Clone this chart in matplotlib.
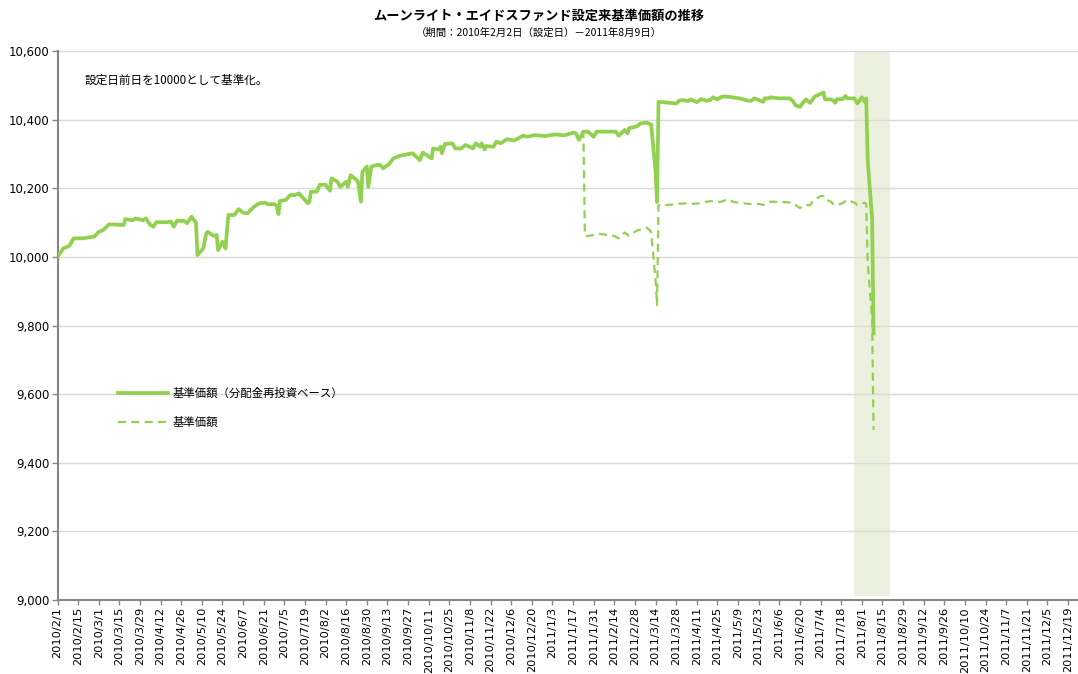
import matplotlib
matplotlib.use("Agg")
import matplotlib.pyplot as plt
import pandas as pd
from matplotlib.font_manager import FontProperties

JP_FONT = ["Noto Sans CJK JP", "DejaVu Sans"]
plt.rcParams["font.family"] = ["DejaVu Sans", "Noto Sans CJK JP"]

TITLE = "ムーンライト・エイドスファンド設定来基準価額の推移"
SUBTITLE = "（期間：2010年2月2日（設定日）－2011年8月9日）"
NOTE = "設定日前日を10000として基準化。"
LABEL_REINVEST = "基準価額（分配金再投資ベース）"
LABEL_NAV = "基準価額"

# 基準価額（分配金再投資ベース）
reinvest_dates = [
    "2010-02-01", "2010-02-05", "2010-02-09", "2010-02-12", "2010-02-18", "2010-02-26",
    "2010-03-01", "2010-03-04", "2010-03-08", "2010-03-18", "2010-03-19", "2010-03-24",
    "2010-03-26", "2010-03-31", "2010-04-02", "2010-04-05", "2010-04-07", "2010-04-09",
    "2010-04-16", "2010-04-19", "2010-04-21", "2010-04-23", "2010-04-28", "2010-04-30",
    "2010-05-03", "2010-05-06", "2010-05-07", "2010-05-11", "2010-05-13", "2010-05-14",
    "2010-05-18", "2010-05-20", "2010-05-21", "2010-05-24", "2010-05-26", "2010-05-28",
    "2010-06-01", "2010-06-04", "2010-06-07", "2010-06-10", "2010-06-14", "2010-06-18",
    "2010-06-22", "2010-06-24", "2010-06-28", "2010-06-30", "2010-07-01", "2010-07-02",
    "2010-07-06", "2010-07-09", "2010-07-12", "2010-07-15", "2010-07-16", "2010-07-21",
    "2010-07-22", "2010-07-23", "2010-07-27", "2010-07-29", "2010-08-02", "2010-08-05",
    "2010-08-06", "2010-08-10", "2010-08-12", "2010-08-16", "2010-08-17", "2010-08-19",
    "2010-08-23", "2010-08-24", "2010-08-26", "2010-08-27", "2010-08-30", "2010-08-31",
    "2010-09-02", "2010-09-06", "2010-09-08", "2010-09-10", "2010-09-14", "2010-09-17",
    "2010-09-21", "2010-09-30", "2010-10-05", "2010-10-07", "2010-10-13", "2010-10-14",
    "2010-10-18", "2010-10-19", "2010-10-20", "2010-10-22", "2010-10-27", "2010-10-29",
    "2010-11-02", "2010-11-05", "2010-11-10", "2010-11-12", "2010-11-15", "2010-11-16",
    "2010-11-18", "2010-11-19", "2010-11-24", "2010-11-26", "2010-11-29", "2010-12-03",
    "2010-12-08", "2010-12-14", "2010-12-17", "2010-12-22", "2010-12-29", "2011-01-05",
    "2011-01-11", "2011-01-17", "2011-01-19", "2011-01-21", "2011-01-24", "2011-01-27",
    "2011-01-31", "2011-02-02", "2011-02-15", "2011-02-17", "2011-02-21", "2011-02-23",
    "2011-02-24", "2011-03-01", "2011-03-04", "2011-03-08", "2011-03-11", "2011-03-14",
    "2011-03-15", "2011-03-16", "2011-03-23", "2011-03-28", "2011-03-30", "2011-04-01",
    "2011-04-05", "2011-04-07", "2011-04-11", "2011-04-14", "2011-04-18", "2011-04-20",
    "2011-04-22", "2011-04-25", "2011-04-28", "2011-05-02", "2011-05-10", "2011-05-16",
    "2011-05-18", "2011-05-20", "2011-05-23", "2011-05-26", "2011-05-27", "2011-05-30",
    "2011-05-31", "2011-06-06", "2011-06-13", "2011-06-15", "2011-06-17", "2011-06-20",
    "2011-06-22", "2011-06-24", "2011-06-27", "2011-06-30", "2011-07-04", "2011-07-06",
    "2011-07-07", "2011-07-11", "2011-07-13", "2011-07-14", "2011-07-15", "2011-07-19",
    "2011-07-21", "2011-07-22", "2011-07-27", "2011-07-29", "2011-08-01", "2011-08-03",
    "2011-08-04", "2011-08-05", "2011-08-08", "2011-08-09",
]
reinvest_values = [
    10000, 10025, 10032, 10054, 10054, 10059,
    10073, 10078, 10095, 10093, 10110, 10107,
    10112, 10107, 10112, 10093, 10088, 10101,
    10101, 10103, 10088, 10105, 10105, 10098,
    10117, 10100, 10005, 10025, 10069, 10073,
    10061, 10064, 10020, 10044, 10025, 10122,
    10122, 10139, 10129, 10127, 10145, 10156,
    10158, 10153, 10154, 10148, 10125, 10163,
    10166, 10180, 10180, 10185, 10180, 10156,
    10161, 10190, 10190, 10210, 10210, 10193,
    10229, 10219, 10204, 10219, 10204, 10238,
    10224, 10219, 10161, 10248, 10263, 10204,
    10263, 10268, 10268, 10258, 10270, 10287,
    10294, 10302, 10282, 10304, 10287, 10316,
    10313, 10321, 10302, 10329, 10331, 10316,
    10316, 10326, 10316, 10331, 10321, 10331,
    10313, 10323, 10321, 10336, 10331, 10343,
    10339, 10353, 10350, 10355, 10352, 10357,
    10354, 10362, 10360, 10341, 10365, 10365,
    10350, 10365, 10365, 10353, 10370, 10360,
    10375, 10380, 10389, 10391, 10386, 10250,
    10160, 10452, 10449, 10447, 10455, 10457,
    10454, 10459, 10451, 10460, 10455, 10457,
    10465, 10459, 10467, 10467, 10462, 10455,
    10455, 10462, 10457, 10452, 10462, 10462,
    10465, 10462, 10462, 10455, 10442, 10437,
    10449, 10459, 10449, 10467, 10475, 10479,
    10459, 10459, 10455, 10449, 10459, 10460,
    10469, 10462, 10462, 10447, 10465, 10452,
    10462, 10282, 10112, 9777,
]

# 基準価額: same as above until the first distribution, then its own path
NAV_SPLIT = "2011-01-24"
nav_tail_dates = [
    "2011-01-25", "2011-01-27", "2011-01-31", "2011-02-04", "2011-02-14", "2011-02-17",
    "2011-02-21", "2011-02-24", "2011-03-01", "2011-03-04", "2011-03-08", "2011-03-10",
    "2011-03-11", "2011-03-14", "2011-03-15", "2011-03-16", "2011-03-22", "2011-03-28",
    "2011-04-04", "2011-04-06", "2011-04-13", "2011-04-18", "2011-04-22", "2011-04-27",
    "2011-05-02", "2011-05-06", "2011-05-13", "2011-05-17", "2011-05-24", "2011-05-26",
    "2011-05-31", "2011-06-07", "2011-06-15", "2011-06-20", "2011-06-23", "2011-06-27",
    "2011-06-29", "2011-07-04", "2011-07-06", "2011-07-07", "2011-07-11", "2011-07-13",
    "2011-07-18", "2011-07-22", "2011-07-27", "2011-07-29", "2011-08-03", "2011-08-04",
    "2011-08-05", "2011-08-08", "2011-08-09",
]
nav_tail_values = [
    10061, 10061, 10064, 10067, 10061, 10054,
    10071, 10061, 10076, 10080, 10085, 10078,
    10070, 9933, 9860, 10151, 10151, 10154,
    10156, 10154, 10156, 10161, 10163, 10160,
    10168, 10160, 10156, 10154, 10154, 10151,
    10161, 10160, 10158, 10142, 10151, 10151,
    10164, 10177, 10177, 10168, 10161, 10151,
    10154, 10166, 10158, 10151, 10158, 10154,
    9985, 9815, 9496,
]

highlight_start = "2011-07-27"
highlight_end = "2011-08-20"

y_ticks = [9000, 9200, 9400, 9600, 9800, 10000, 10200, 10400, 10600]
x_tick_dates = pd.date_range("2010-02-01", "2011-12-19", freq="14D")
x_tick_labels = [f"{d.year}/{d.month}/{d.day}" for d in x_tick_dates]

GREEN = "#92d050"
AXIS_GREY = "#868686"


def main() -> None:
    split = reinvest_dates.index(NAV_SPLIT) + 1
    nav_dates = reinvest_dates[:split] + nav_tail_dates
    nav_values = reinvest_values[:split] + nav_tail_values

    fig = plt.figure(figsize=(10.78, 6.74), dpi=100)
    ax = fig.add_axes([57.5 / 1078, 74 / 674, 1028.2 / 1078, 549 / 674])

    ax.axvspan(pd.Timestamp(highlight_start), pd.Timestamp(highlight_end),
               ymin=0.007, ymax=0.998, color="#ebf1de", lw=0, zorder=0.1)

    ax.plot(pd.to_datetime(nav_dates), nav_values, color=GREEN, lw=1.6,
            dashes=(3.6, 2.4), zorder=2, label=LABEL_NAV)
    ax.plot(pd.to_datetime(reinvest_dates), reinvest_values, color=GREEN, lw=2.7,
            solid_joinstyle="round", zorder=3, label=LABEL_REINVEST)

    ax.set_xlim(pd.Timestamp("2010-02-01"), pd.Timestamp("2011-12-31"))
    ax.set_ylim(9000, 10600)

    ax.set_yticks(y_ticks)
    ax.set_yticklabels([f"{v:,}" for v in y_ticks], fontsize=8.4)
    ax.set_xticks(x_tick_dates)
    ax.set_xticklabels(x_tick_labels, rotation=90, fontsize=8.2)

    ax.yaxis.grid(True, color="#d9d9d9", lw=1.0)
    ax.set_axisbelow(True)
    for side in ("top", "right"):
        ax.spines[side].set_visible(False)
    for side in ("left", "bottom"):
        ax.spines[side].set_color(AXIS_GREY)
        ax.spines[side].set_linewidth(1.5)
    ax.tick_params(axis="x", length=3.5, width=1, color=AXIS_GREY, pad=1.5)
    ax.tick_params(axis="y", length=4, width=1, color=AXIS_GREY, pad=2)

    ax.text((85 - 57.5) / 1028.2, (600 - 80) / 549, NOTE, transform=ax.transAxes,
            ha="left", va="center", fontsize=8.4, family=JP_FONT)

    handles, labels = ax.get_legend_handles_labels()
    ax.legend(handles[::-1], labels[::-1], loc="upper left",
              bbox_to_anchor=((118 - 57.5) / 1028.2, (600 - 388) / 549),
              frameon=False, borderpad=0, borderaxespad=0, handlelength=4.4,
              handletextpad=0.4, labelspacing=1.5,
              prop=FontProperties(family=JP_FONT, size=8.2))

    fig.text(0.5, 1 - 16 / 674, TITLE, ha="center", va="center",
             fontsize=9.5, fontweight="bold", family=JP_FONT)
    fig.text(0.5, 1 - 33 / 674, SUBTITLE, ha="center", va="center",
             fontsize=7.5, family=JP_FONT)

    fig.savefig("out.png", dpi=100)
    plt.close(fig)


if __name__ == "__main__":
    main()
